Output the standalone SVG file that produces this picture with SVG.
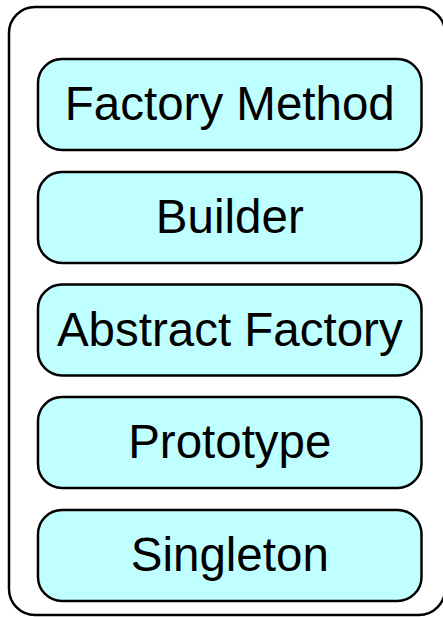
<svg xmlns="http://www.w3.org/2000/svg" width="443" height="617" viewBox="0 0 443 617">
<style>
.box{fill:#c0ffff;stroke:#000;stroke-width:2.5}
.lbl{font-family:"Liberation Sans",Arial,sans-serif;font-size:47.5px;fill:#000;text-anchor:middle}
</style>
<rect x="0" y="0" width="443" height="617" fill="#fff"/>
<g id="container"><rect x="9" y="7" width="436" height="608" rx="26" fill="#fff" stroke="#000" stroke-width="2.5"/></g>
<g id="connectors"></g>
<g id="factory-method"><rect class="box" x="38" y="59" width="383.5" height="91" rx="24"/><text class="lbl" x="229.8" y="120">Factory Method</text></g>
<g id="builder"><rect class="box" x="38" y="172" width="383.5" height="91" rx="24"/><text class="lbl" x="229.8" y="233">Builder</text></g>
<g id="abstract-factory"><rect class="box" x="38" y="284.5" width="383.5" height="91" rx="24"/><text class="lbl" x="229.8" y="345.5">Abstract Factory</text></g>
<g id="prototype"><rect class="box" x="38" y="397" width="383.5" height="91" rx="24"/><text class="lbl" x="229.8" y="458">Prototype</text></g>
<g id="singleton"><rect class="box" x="38" y="510" width="383.5" height="91" rx="24"/><text class="lbl" x="229.8" y="571">Singleton</text></g>
</svg>
